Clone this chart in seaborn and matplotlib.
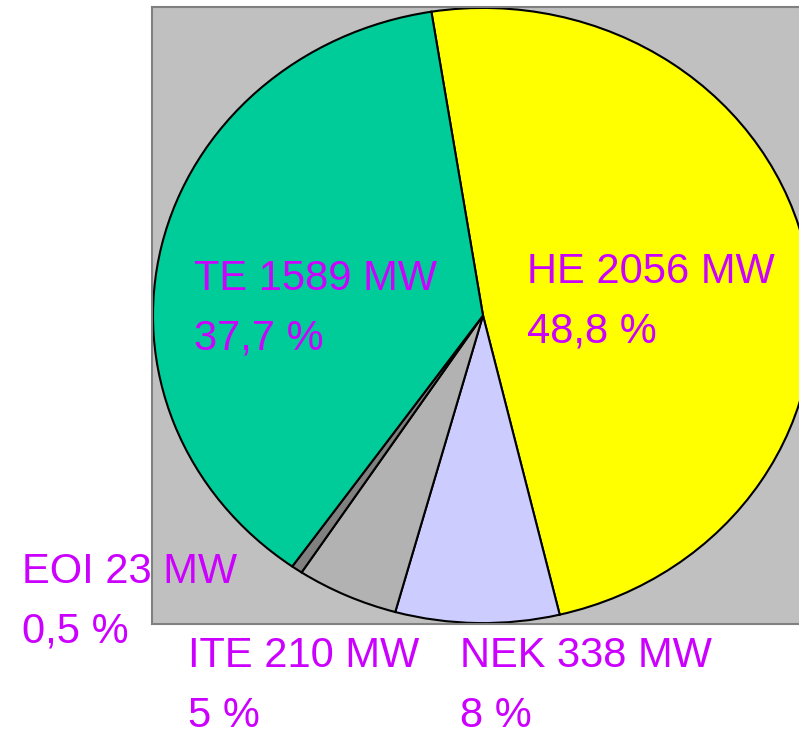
import numpy as np
import matplotlib
matplotlib.use("Agg")
import matplotlib.pyplot as plt
import seaborn as sns

# Installed capacity by plant type (clockwise from the top)
names = ["HE", "NEK", "ITE", "EOI", "TE"]
power_mw = [2056, 338, 210, 23, 1589]
share_pct = ["48,8", "8", "5", "0,5", "37,7"]
slice_colors = ["#FFFF00", "#CCCCFF", "#B2B2B2", "#808080", "#00CC99"]

sns.set_style("white")
plt.rcParams['font.family'] = ['Liberation Sans', 'DejaVu Sans']

W, H = 799, 733
fig = plt.figure(figsize=(W / 100, H / 100), dpi=100)
fig.patch.set_facecolor("white")

# plot area (gray box), runs off the right edge as in the original
ax = fig.add_axes([152 / W, 1 - 624 / H, 662 / W, 617 / H])
ax.set_facecolor("#C0C0C0")

ax.pie(power_mw, colors=slice_colors, startangle=99, counterclock=False,
       frame=True,
       wedgeprops=dict(edgecolor="black", linewidth=1.5))
ax.set_aspect("auto")
ax.set_xlim(-1.003, 1.003)
ax.set_ylim(-1.003, 1.003)
ax.set_xticks([])
ax.set_yticks([])
for sp in ax.spines.values():
    sp.set_visible(True)
    sp.set_color("#808080")
    sp.set_linewidth(1.5)

# label anchors in pixels: (left x, baseline of first line)
label_pos = {"HE": (527, 283), "NEK": (460, 667), "ITE": (188, 667),
             "EOI": (22, 583), "TE": (194, 290)}
line_gap = 60
text_color = "#CC00FF"

for name, mw, pct in zip(names, power_mw, share_pct):
    x, y = label_pos[name]
    fig.text(x / W, 1 - y / H, f"{name} {mw} MW", color=text_color,
             fontsize=30, ha="left", va="baseline")
    fig.text(x / W, 1 - (y + line_gap) / H, f"{pct} %", color=text_color,
             fontsize=30, ha="left", va="baseline")

fig.savefig("out.png", dpi=100)
